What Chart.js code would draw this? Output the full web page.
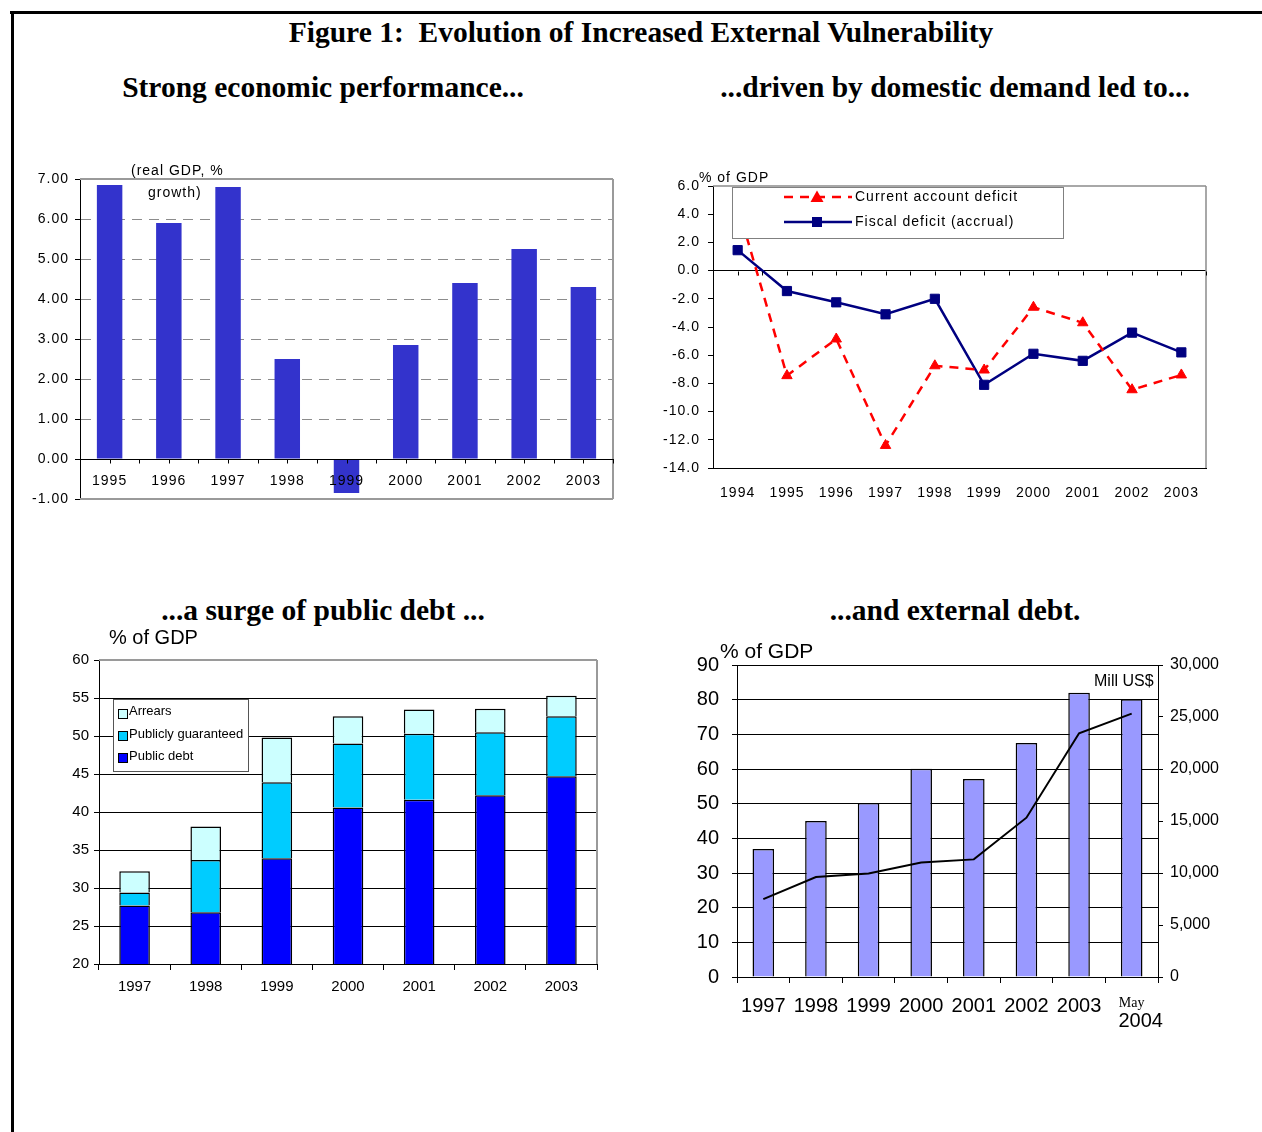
<!DOCTYPE html>
<html>
<head>
<meta charset="utf-8">
<title>Figure 1: Evolution of Increased External Vulnerability</title>
<script src="https://cdn.jsdelivr.net/npm/chart.js@4.4.1/dist/chart.umd.min.js"></script>
<style>
  html, body { margin: 0; padding: 0; background: #fff; }
  body { width: 1262px; height: 1132px; position: relative; overflow: hidden;
         font-family: 'Liberation Sans', Arial, sans-serif; color: #000; }
  .rule-top { position: absolute; left: 10px; top: 11px; width: 1252px; height: 3px; background: #000; }
  .rule-left { position: absolute; left: 11px; top: 11px; width: 3px; height: 1121px; background: #000; }
  .head { position: absolute; white-space: nowrap; transform: translate(-50%, -50%);
          font-family: 'Liberation Serif', 'Times New Roman', serif; font-weight: bold; font-size: 29.5px; }
  .note { position: absolute; white-space: nowrap; transform: translateY(-50%); }
  canvas { position: absolute; }
</style>
</head>
<body>
<div class="rule-top"></div>
<div class="rule-left"></div>

<div class="head" style="left:641px; top:32px;">Figure 1:&nbsp; Evolution of Increased External Vulnerability</div>
<div class="head" style="left:323px; top:87px;">Strong economic performance...</div>
<div class="head" style="left:955px; top:87px;">...driven by domestic demand led to...</div>
<div class="head" style="left:323px; top:610px;">...a surge of public debt ...</div>
<div class="head" style="left:955px; top:610px;">...and external debt.</div>

<canvas id="gdpChart" width="610" height="370" style="left:20px; top:150px; width:610px; height:370px;"></canvas>
<canvas id="balanceChart" width="612" height="360" style="left:650px; top:150px; width:612px; height:360px;"></canvas>
<canvas id="debtChart" width="590" height="380" style="left:40px; top:625px; width:590px; height:380px;"></canvas>
<canvas id="extChart" width="582" height="420" style="left:680px; top:630px; width:582px; height:420px;"></canvas>

<div class="note" style="left:131px; top:170px; font-size:14px; letter-spacing:1px;">(real GDP, %</div>
<div class="note" style="left:148px; top:192px; font-size:14px; letter-spacing:1px;">growth)</div>
<div class="note" style="left:699px; top:177px; font-size:14px; letter-spacing:1px;">% of GDP</div>
<div class="note" style="left:109px; top:637px; font-size:20px;">% of GDP</div>
<div class="note" style="left:720px; top:651px; font-size:21px;">% of GDP</div>
<div class="note" style="left:1094px; top:681px; font-size:16px;">Mill US$</div>

<script>
// ---- Data ----
const gdpYears = ['1995', '1996', '1997', '1998', '1999', '2000', '2001', '2002', '2003'];
const gdpGrowth = [6.85, 5.90, 6.80, 2.50, -0.85, 2.85, 4.40, 5.25, 4.30];

const balanceYears = ['1994', '1995', '1996', '1997', '1998', '1999', '2000', '2001', '2002', '2003'];
const currentAccountDeficit = [4.6, -7.45, -4.85, -12.4, -6.75, -7.05, -2.6, -3.7, -8.45, -7.4];
const fiscalDeficit = [1.45, -1.45, -2.25, -3.1, -2.0, -8.1, -5.9, -6.4, -4.4, -5.8];

const debtYears = ['1997', '1998', '1999', '2000', '2001', '2002', '2003'];
const publicDebt = [27.7, 26.8, 33.9, 40.6, 41.6, 42.2, 44.7];
const publiclyGuaranteed = [1.7, 6.9, 10.0, 8.4, 8.7, 8.3, 7.9];
const arrears = [2.8, 4.4, 5.9, 3.6, 3.2, 3.1, 2.7];

const extDebtYears = ['1997', '1998', '1999', '2000', '2001', '2002', '2003', 'May 2004'];
const extDebtPctGdp = [36.9, 45.0, 50.2, 60.1, 57.1, 67.5, 82.0, 80.1];
const extDebtMillUsd = [7490, 9610, 9950, 11000, 11310, 15320, 23440, 25320];

// ---- Shared settings ----
Chart.defaults.font.family = "'Liberation Sans', Arial, sans-serif";
Chart.defaults.color = '#000';
Chart.defaults.animation = false;
Chart.defaults.events = [];
Chart.defaults.plugins.legend.display = false;
Chart.defaults.plugins.tooltip.enabled = false;

// Fixed axis thickness, so the plot area lands in the same place every time.
const size = (px) => (scale) => { if (scale.isHorizontal()) scale.height = px; else scale.width = px; };

// Wider letter spacing for the text drawn on a chart.
const spacing = (px) => ({
  id: 'spacing',
  beforeDraw(chart) { chart.ctx.letterSpacing = px + 'px'; }
});

// Outline around the plot area on the chosen sides.
const frame = (color, width, sides) => ({
  id: 'frame',
  afterDatasetsDraw(chart) {
    const { ctx, chartArea: a } = chart;
    ctx.save();
    ctx.strokeStyle = color;
    ctx.lineWidth = width;
    ctx.beginPath();
    if (sides.includes('top')) { ctx.moveTo(a.left, a.top); ctx.lineTo(a.right, a.top); }
    if (sides.includes('right')) { ctx.moveTo(a.right, a.top); ctx.lineTo(a.right, a.bottom); }
    if (sides.includes('bottom')) { ctx.moveTo(a.left, a.bottom); ctx.lineTo(a.right, a.bottom); }
    ctx.stroke();
    ctx.restore();
  }
});

// Small marks below the zero line, at every half category.
const zeroTicks = {
  id: 'zeroTicks',
  afterDraw(chart) {
    const { ctx } = chart;
    const xs = chart.scales.x, ys = chart.scales.y;
    const y0 = Math.round(ys.getPixelForValue(0)) + 0.5;
    const n = chart.data.labels.length;
    ctx.save();
    ctx.strokeStyle = '#000';
    ctx.lineWidth = 1;
    ctx.beginPath();
    for (let k = 1; k <= 2 * n; k++) {
      const px = Math.round(xs.getPixelForValue(k / 2 - 0.5)) + 0.5;
      ctx.moveTo(px, y0);
      ctx.lineTo(px, y0 + 4);
    }
    ctx.stroke();
    ctx.restore();
  }
};

// ---- Real GDP growth ----
new Chart(document.getElementById('gdpChart'), {
  type: 'bar',
  data: {
    labels: gdpYears,
    datasets: [{
      data: gdpGrowth,
      backgroundColor: '#3333CC',
      borderWidth: 0,
      categoryPercentage: 1,
      barPercentage: 0.43
    }]
  },
  options: {
    responsive: false,
    layout: { padding: { left: 0, top: 29, right: 17, bottom: 21 } },
    scales: {
      x: {
        position: { y: 0 },
        afterFit: size(0),
        grid: { display: false },
        border: { display: true, color: '#000', width: 1, z: 1 },
        ticks: { font: { size: 14 }, padding: 6, autoSkip: false, maxRotation: 0, z: 1 }
      },
      y: {
        min: -1, max: 7,
        afterFit: size(60),
        ticks: { stepSize: 1, font: { size: 14 }, padding: 6, callback: (v) => v.toFixed(2) },
        grid: {
          color: (c) => (c.tick && c.tick.value > 0 && c.tick.value < 7) ? '#8c8c8c' : 'rgba(0,0,0,0)',
          tickColor: '#000', tickLength: 5, lineWidth: 1
        },
        border: { color: '#000', width: 1, dash: [10, 7] }
      }
    }
  },
  plugins: [spacing(1), frame('#9a9a9a', 2, ['top', 'right', 'bottom']), zeroTicks]
});

// ---- Current account and fiscal deficits ----
const balanceLegend = {
  id: 'balanceLegend',
  afterDatasetsDraw(chart) {
    const { ctx, chartArea: a } = chart;
    const bx = Math.round(a.left) + 19.5, by = Math.round(a.top) + 1.5;
    ctx.save();
    ctx.fillStyle = '#fff';
    ctx.fillRect(bx, by, 331, 51);
    ctx.strokeStyle = '#808080';
    ctx.lineWidth = 1;
    ctx.strokeRect(bx, by, 331, 51);

    const x1 = a.left + 71, x2 = a.left + 139, xm = a.left + 104;
    const r1 = a.top + 11, r2 = a.top + 36;
    // current account sample
    ctx.strokeStyle = '#FF0000';
    ctx.lineWidth = 2.5;
    ctx.setLineDash([9, 7]);
    ctx.beginPath(); ctx.moveTo(x1, r1); ctx.lineTo(x2, r1); ctx.stroke();
    ctx.setLineDash([]);
    ctx.fillStyle = '#FF0000';
    ctx.beginPath();
    ctx.moveTo(xm, r1 - 6.5); ctx.lineTo(xm + 6.5, r1 + 5); ctx.lineTo(xm - 6.5, r1 + 5);
    ctx.closePath(); ctx.fill();
    // fiscal sample
    ctx.strokeStyle = '#000080';
    ctx.lineWidth = 2.5;
    ctx.beginPath(); ctx.moveTo(x1, r2); ctx.lineTo(x2, r2); ctx.stroke();
    ctx.fillStyle = '#000080';
    ctx.fillRect(xm - 5, r2 - 5, 10, 10);

    ctx.fillStyle = '#000';
    ctx.font = "14px 'Liberation Sans', Arial, sans-serif";
    ctx.textAlign = 'left';
    ctx.textBaseline = 'middle';
    ctx.fillText(chart.data.datasets[0].label, a.left + 142, r1);
    ctx.fillText(chart.data.datasets[1].label, a.left + 142, r2);
    ctx.restore();
  }
};

new Chart(document.getElementById('balanceChart'), {
  type: 'line',
  data: {
    labels: balanceYears,
    datasets: [{
      label: 'Current account deficit',
      data: currentAccountDeficit,
      borderColor: '#FF0000',
      backgroundColor: '#FF0000',
      borderWidth: 2.5,
      borderDash: [9, 7],
      pointStyle: 'triangle',
      pointRadius: 6,
      pointBorderWidth: 1,
      tension: 0
    }, {
      label: 'Fiscal deficit (accrual)',
      data: fiscalDeficit,
      borderColor: '#000080',
      backgroundColor: '#000080',
      borderWidth: 2.5,
      pointStyle: 'rect',
      pointRadius: 6.5,
      pointBorderWidth: 1,
      tension: 0
    }]
  },
  options: {
    responsive: false,
    layout: { padding: { left: 0, top: 36, right: 56, bottom: 0 } },
    scales: {
      x: {
        offset: true,
        afterFit: size(42),
        grid: { display: false },
        border: { display: true, color: '#000', width: 1 },
        ticks: { font: { size: 14 }, padding: 9, autoSkip: false, maxRotation: 0 }
      },
      y: {
        min: -14, max: 6,
        afterFit: size(63),
        ticks: { stepSize: 2, font: { size: 14 }, padding: 8, callback: (v) => v.toFixed(1) },
        grid: {
          color: (c) => (c.tick && c.tick.value === 0) ? '#000' : 'rgba(0,0,0,0)',
          tickColor: '#000', tickLength: 5, lineWidth: 1
        },
        border: { color: '#000', width: 1 }
      }
    }
  },
  plugins: [spacing(1), frame('#8c8c8c', 1.5, ['top', 'right']), zeroTicks, balanceLegend]
});

// ---- Public debt ----
const debtLegend = {
  id: 'debtLegend',
  afterDatasetsDraw(chart) {
    const { ctx, chartArea: a } = chart;
    const bx = Math.round(a.left) + 14.5, by = Math.round(a.top) + 39.5;
    ctx.save();
    ctx.fillStyle = '#fff';
    ctx.fillRect(bx, by, 135, 72);
    ctx.strokeStyle = '#555';
    ctx.lineWidth = 1;
    ctx.strokeRect(bx, by, 135, 72);
    const rows = [2, 1, 0];
    const ys = [52.5, 75, 97];
    ctx.font = "13px 'Liberation Sans', Arial, sans-serif";
    ctx.textAlign = 'left';
    ctx.textBaseline = 'middle';
    rows.forEach((di, i) => {
      const ds = chart.data.datasets[di];
      const cy = a.top + ys[i];
      const sx = Math.round(a.left) + 19.5, sy = Math.round(cy) - 3.5;
      ctx.fillStyle = ds.backgroundColor;
      ctx.fillRect(sx, sy, 9, 9);
      ctx.strokeStyle = '#000';
      ctx.strokeRect(sx, sy, 9, 9);
      ctx.fillStyle = '#000';
      ctx.fillText(ds.label, a.left + 30, cy - 1);
    });
    ctx.restore();
  }
};

const debtBar = { borderColor: '#000', borderWidth: 1.5, categoryPercentage: 1, barPercentage: 0.43, clip: 0 };

new Chart(document.getElementById('debtChart'), {
  type: 'bar',
  data: {
    labels: debtYears,
    datasets: [
      Object.assign({ label: 'Public debt', data: publicDebt, backgroundColor: '#0000FF' }, debtBar),
      Object.assign({ label: 'Publicly guaranteed', data: publiclyGuaranteed, backgroundColor: '#00CCFF' }, debtBar),
      Object.assign({ label: 'Arrears', data: arrears, backgroundColor: '#CCFFFF' }, debtBar)
    ]
  },
  options: {
    responsive: false,
    layout: { padding: { left: 0, top: 35, right: 33, bottom: 0 } },
    scales: {
      x: {
        stacked: true,
        afterFit: size(41),
        grid: { drawOnChartArea: false, tickLength: 6, tickColor: '#000', offset: true },
        border: { color: '#000', width: 1 },
        ticks: { font: { size: 15 }, padding: 8, autoSkip: false, maxRotation: 0 }
      },
      y: {
        stacked: true,
        min: 20, max: 60,
        afterFit: size(59),
        ticks: { stepSize: 5, font: { size: 15 }, padding: 5 },
        grid: {
          color: (c) => (c.tick && c.tick.value === 60) ? 'rgba(0,0,0,0)' : '#000',
          tickColor: '#000', tickLength: 5, lineWidth: 1
        },
        border: { color: '#000', width: 1 }
      }
    }
  },
  plugins: [frame('#9a9a9a', 2, ['top', 'right']), debtLegend]
});

// ---- External debt ----
const mayLabel = {
  id: 'mayLabel',
  afterDraw(chart) {
    const { ctx } = chart;
    const xs = chart.scales.x;
    const last = extDebtYears.length - 1;
    const px = xs.getPixelForValue(last);
    const base = chart.chartArea.bottom;
    const parts = extDebtYears[last].split(' ');
    ctx.save();
    ctx.fillStyle = '#000';
    ctx.textAlign = 'center';
    ctx.textBaseline = 'middle';
    ctx.font = "14px 'Liberation Serif', 'Times New Roman', serif";
    ctx.fillText(parts[0], px, base + 26);
    ctx.font = "20px 'Liberation Sans', Arial, sans-serif";
    ctx.fillText(parts[1], px + 9, base + 44);
    ctx.restore();
  }
};

new Chart(document.getElementById('extChart'), {
  type: 'bar',
  data: {
    labels: extDebtYears,
    datasets: [{
      type: 'line',
      label: 'Mill US$',
      data: extDebtMillUsd,
      yAxisID: 'y2',
      borderColor: '#000',
      borderWidth: 2,
      pointRadius: 0,
      tension: 0,
      order: 0
    }, {
      label: '% of GDP',
      data: extDebtPctGdp,
      yAxisID: 'y',
      backgroundColor: '#9999FF',
      borderColor: '#000',
      borderWidth: 1.5,
      categoryPercentage: 1,
      barPercentage: 0.41,
      order: 1
    }]
  },
  options: {
    responsive: false,
    layout: { padding: { left: 0, top: 35, right: 0, bottom: 0 } },
    scales: {
      x: {
        afterFit: size(73),
        grid: { drawOnChartArea: false, tickLength: 6, tickColor: '#000', offset: true },
        border: { color: '#000', width: 1 },
        ticks: {
          font: { size: 20 }, padding: 11, autoSkip: false, maxRotation: 0,
          callback: (v, i) => (i === extDebtYears.length - 1 ? '' : extDebtYears[i])
        }
      },
      y: {
        position: 'left',
        min: 0, max: 90,
        afterFit: size(57),
        ticks: { stepSize: 10, font: { size: 20 }, padding: 13 },
        grid: { color: '#000', tickColor: '#000', tickLength: 5, lineWidth: 1 },
        border: { color: '#000', width: 1 }
      },
      y2: {
        position: 'right',
        min: 0, max: 30000,
        afterFit: size(104),
        ticks: { stepSize: 5000, font: { size: 16 }, padding: 7, callback: (v) => v.toLocaleString('en-US') },
        grid: { drawOnChartArea: false, tickColor: '#000', tickLength: 5 },
        border: { color: '#000', width: 1 }
      }
    }
  },
  plugins: [mayLabel]
});
</script>
</body>
</html>
